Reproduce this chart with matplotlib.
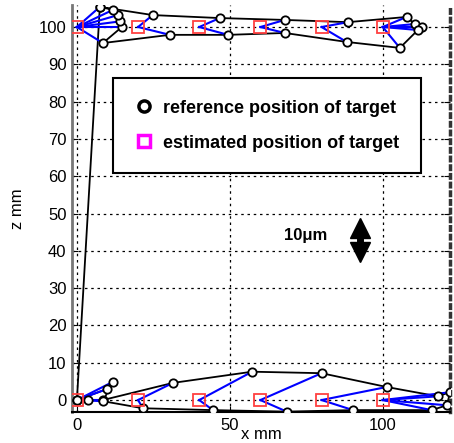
import matplotlib
matplotlib.use("Agg")
import matplotlib.pyplot as plt
from matplotlib.lines import Line2D

# reference trajectory (black circles), bottom loop then top loop
ref_x = [0, 3.7, 8.5, 31.4, 57.3, 80, 101.3, 118, 122, 121, 116, 90.3, 68.6, 44.5, 21.6, 8.5, 11.8, 10, 0,
         7.5, 24.8, 46.7, 68, 88.6, 107.8, 110.5, 113, 111.5, 105.6, 88.2, 68, 49.4, 30.4, 8.5, 14.7, 14, 13.4, 11.8, 7.5]
ref_z = [0, 0, 0, 4.6, 7.6, 7.2, 3.5, 1.0, 2.1, -1.4, -2.7, -2.7, -3.1, -2.7, -2.2, -0.3, 4.9, 3, 0,
         105.4, 103.2, 102.4, 101.9, 101.3, 102.7, 100.8, 100, 99.2, 94.4, 96, 98.4, 97.9, 97.9, 95.7, 100, 101.5, 103.2, 104.6, 105.4]

# estimated positions (squares)
est_x = [0, 20, 40, 60, 80, 100, 0, 20, 40, 60, 80, 100]
est_z = [0, 0, 0, 0, 0, 0, 100, 100, 100, 100, 100, 100]

# blue links: (estimate index, reference index)
links = [(0, 1), (0, 2), (0, 16), (0, 17), (0, 15),
         (1, 3), (1, 14), (2, 4), (2, 13), (3, 5), (3, 12), (4, 6), (4, 11),
         (5, 7), (5, 8), (5, 9), (5, 10),
         (6, 19), (6, 33), (6, 34), (6, 35), (6, 36), (6, 37),
         (7, 20), (7, 32), (8, 21), (8, 31), (9, 22), (9, 30), (10, 23), (10, 29),
         (11, 24), (11, 25), (11, 26), (11, 27), (11, 28)]

x_ticks = [0, 50, 100]
z_ticks = [0, 10, 20, 30, 40, 50, 60, 70, 80, 90, 100]

plt.rcParams["font.family"] = ["Liberation Sans", "DejaVu Sans"]

fig = plt.figure(figsize=(4.54, 4.43), dpi=100)
ax = fig.add_axes([0.1586, 0.07, 0.8326, 0.9187])

ax.plot(ref_x, ref_z, color="black", lw=1.3, zorder=2)
for ei, ri in links:
    ax.plot([est_x[ei], ref_x[ri]], [est_z[ei], ref_z[ri]], color="#0000ff", lw=1.5, zorder=3)
ax.plot(ref_x, ref_z, ls="none", marker="o", ms=6, mfc="white", mec="black", mew=1.3, zorder=4)
ax.plot(est_x, est_z, ls="none", marker="s", ms=8, mfc="none", mec="#ff4040", mew=1.3, zorder=5)

ax.set_xlim(-1.6, 122)
ax.set_ylim(-3.2, 105.9)
ax.set_xticks(x_ticks)
ax.set_yticks(z_ticks)
ax.tick_params(direction="in", length=4, labelsize=12, right=True, pad=4)
ax.grid(True, color="black", ls=(0, (2, 3)), lw=0.9)
ax.set_axisbelow(True)
ax.spines["top"].set_visible(False)
ax.spines["left"].set_color("#777777")
ax.spines["left"].set_linewidth(2)
ax.spines["bottom"].set_linewidth(1.5)
ax.spines["right"].set_linestyle((0, (1, 1.5)))
ax.spines["right"].set_linewidth(2.5)
ax.spines["right"].set_color("#333333")

ax.set_xlabel("x mm", fontsize=12, labelpad=-4)
ax.set_ylabel("z mm", fontsize=12, labelpad=10)

handles = [
    Line2D([], [], ls="none", marker="o", ms=8, mfc="white", mec="black", mew=2.5),
    Line2D([], [], ls="none", marker="s", ms=9, mfc="white", mec="#ff00ff", mew=2.5),
]
leg = ax.legend(handles, ["reference position of target", "estimated position of target"],
                loc="upper left", bbox_to_anchor=(0.108, 0.821), fancybox=False,
                framealpha=1, edgecolor="black", borderpad=1.2, labelspacing=1.0,
                handletextpad=0.6, handlelength=1.0, borderaxespad=0,
                prop={"weight": "bold", "size": 13})
leg.get_frame().set_linewidth(1.5)

# scale annotation: label plus double arrow
ax.text(74.8, 44.2, "10μm", ha="center", va="center", fontsize=12, fontweight="bold")
ax.plot([92.5, 92.5], [45.2, 40.8], color="black", lw=5, solid_capstyle="butt", zorder=6)
ax.plot([92.5], [46.2], ls="none", marker="^", ms=14, color="black", zorder=6)
ax.plot([92.5], [39.8], ls="none", marker="v", ms=14, color="black", zorder=6)

fig.savefig("out.png", dpi=100)
